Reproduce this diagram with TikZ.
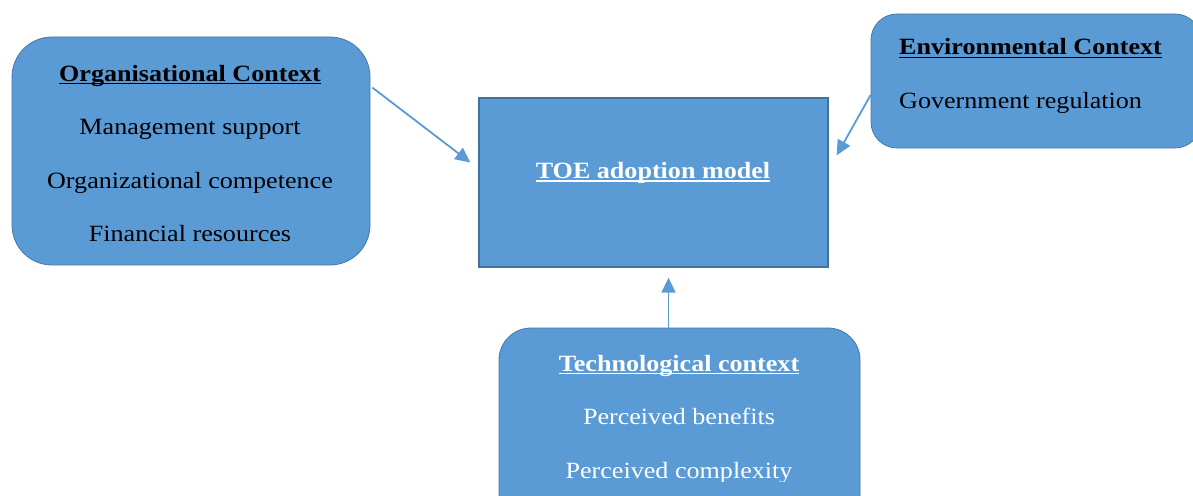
\documentclass[tikz,border=0pt]{standalone}
\usepackage{fontspec}
\setmainfont{Liberation Serif}[FakeStretch=1.12]
\usetikzlibrary{arrows.meta}
\definecolor{boxblue}{HTML}{5B9BD5}
\definecolor{boxedge}{HTML}{41719C}
% underline drawn at a fixed depth below the baseline
\newcommand\ulbar[1]{\setbox0\hbox{#1}\rlap{\rule[-3pt]{\wd0}{1.2pt}}\box0}
\tikzset{
  ctxbox/.style={draw=boxedge!80!boxblue, line width=0.8pt, fill=boxblue, inner sep=0pt},
  modelbox/.style={draw=boxedge, line width=1.3pt, fill=boxblue, inner sep=0pt},
  ctxtext/.style={font=\fontsize{23.3}{53.5}\selectfont, inner sep=0pt},
  link/.style={draw=boxblue, line width=1.8pt, -{Triangle[length=15pt,width=14pt]}}
}
\begin{document}
\begin{tikzpicture}[x=1pt,y=-1pt]
\useasboundingbox (0,0) rectangle (1193,495);
\begin{scope}
\clip (0,0) rectangle (1193,495);
% context boxes and the central model box
\node[ctxbox, rounded corners=40pt, minimum width=358pt, minimum height=228pt] (org) at (191,151) {};
\node[ctxbox, rounded corners=26pt, minimum width=330pt, minimum height=134pt] (env) at (1036,81) {};
\node[modelbox, minimum width=349pt, minimum height=169pt] (toe) at (653.5,182.5) {};
\node[ctxbox, rounded corners=32pt, minimum width=361pt, minimum height=200pt] (tech) at (679.5,428) {};
\end{scope}

% texts
\node[ctxtext, align=center] (orgtxt) at (190,153.5)
  {\ulbar{\textbf{Organisational Context}}\\Management support\\Organizational competence\\Financial resources};
\node[ctxtext, align=left, anchor=west] (envtxt) at (899,76)
  {\ulbar{\textbf{Environmental Context}}\\Government regulation};
\node[ctxtext, text=white] (toetxt) at (653,173) {\ulbar{\textbf{TOE adoption model}}};
\begin{scope}
\clip (0,0) rectangle (1193,481);
\node[ctxtext, align=center, text=white] (techtxt) at (679,419)
  {\ulbar{\textbf{Technological context}}\\Perceived benefits\\Perceived complexity};
\end{scope}

% connectors
\draw[link] ([xshift=2pt,yshift=-51pt]org.north east) -- ([xshift=-8pt,yshift=20pt]toe.west);
\draw[link] ([yshift=-14pt]env.west) -- ([xshift=8pt,yshift=-58pt]toe.north east);
\draw[link] ([xshift=-11pt]tech.north) -- ([xshift=15pt,yshift=-10pt]toe.south);
\end{tikzpicture}
\end{document}
